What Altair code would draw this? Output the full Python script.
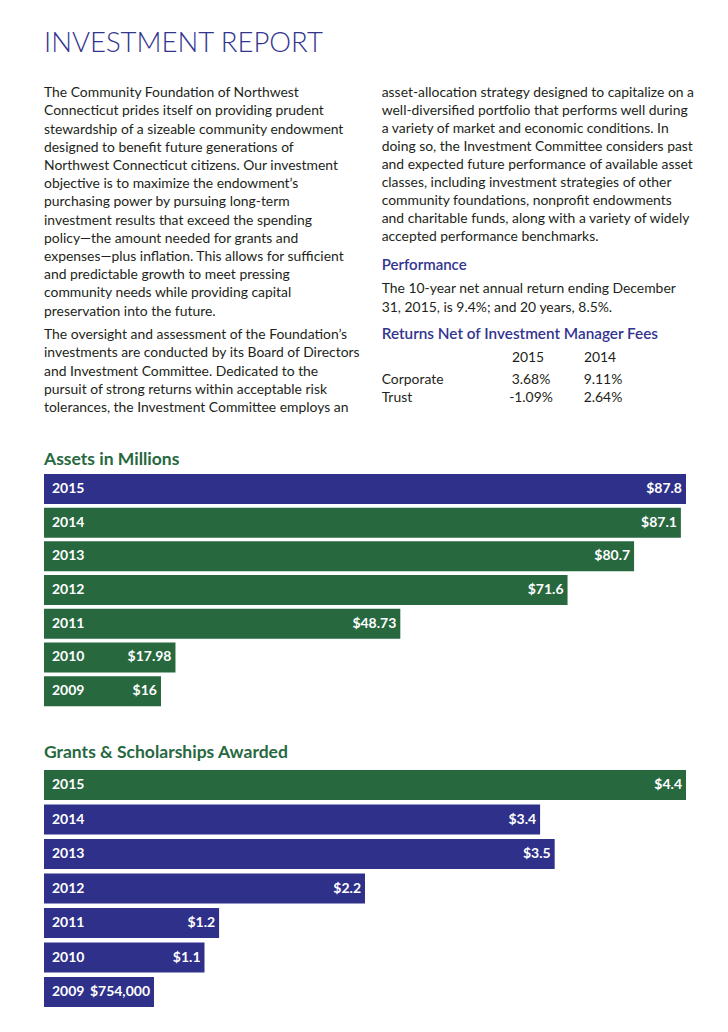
import altair as alt
import pandas as pd

# ---------------- data ----------------
TITLE = "INVESTMENT REPORT"

LEFT_P1 = [
    "The Community Foundation of Northwest",
    "Connecticut prides itself on providing prudent",
    "stewardship of a sizeable community endowment",
    "designed to benefit future generations of",
    "Northwest Connecticut citizens. Our investment",
    "objective is to maximize the endowment’s",
    "purchasing power by pursuing long-term",
    "investment results that exceed the spending",
    "policy—the amount needed for grants and",
    "expenses—plus inflation. This allows for sufficient",
    "and predictable growth to meet pressing",
    "community needs while providing capital",
    "preservation into the future.",
]
LEFT_P2 = [
    "The oversight and assessment of the Foundation’s",
    "investments are conducted by its Board of Directors",
    "and Investment Committee. Dedicated to the",
    "pursuit of strong returns within acceptable risk",
    "tolerances, the Investment Committee employs an",
]
RIGHT_P1 = [
    "asset-allocation strategy designed to capitalize on a",
    "well-diversified portfolio that performs well during",
    "a variety of market and economic conditions. In",
    "doing so, the Investment Committee considers past",
    "and expected future performance of available asset",
    "classes, including investment strategies of other",
    "community foundations, nonprofit endowments",
    "and charitable funds, along with a variety of widely",
    "accepted performance benchmarks.",
]
PERF_HEAD = "Performance"
PERF_TEXT = [
    "The 10-year net annual return ending December",
    "31, 2015, is 9.4%; and 20 years, 8.5%.",
]
RET_HEAD = "Returns Net of Investment Manager Fees"
TABLE_YEARS = ["2015", "2014"]
TABLE_ROWS = ["Corporate", "Trust"]
TABLE_2015 = ["3.68%", "-1.09%"]
TABLE_2014 = ["9.11%", "2.64%"]

ASSETS_TITLE = "Assets in Millions"
GRANTS_TITLE = "Grants & Scholarships Awarded"
YEARS = ["2015", "2014", "2013", "2012", "2011", "2010", "2009"]
ASSETS = [87.8, 87.1, 80.7, 71.6, 48.73, 17.98, 16]
ASSET_LABELS = ["$87.8", "$87.1", "$80.7", "$71.6", "$48.73", "$17.98", "$16"]
GRANTS = [4.4, 3.4, 3.5, 2.2, 1.2, 1.1, 0.754]
GRANT_LABELS = ["$4.4", "$3.4", "$3.5", "$2.2", "$1.2", "$1.1", "$754,000"]

# ---------------- style ----------------
NAVY = "#2e3089"
GREEN = "#27683f"
TITLE_BLUE = "#33348f"
BODY = "#231f20"
BODY_FONT = "Lato"
BODY_SIZE = 13.9
LABEL_FONT = "Lato"
LABEL_SIZE = 14


def text_block(lines, x, y, size=BODY_SIZE, color=BODY, weight="normal",
               font=BODY_FONT, line_height=18.2, align="left"):
    df = pd.DataFrame({"t": ["\n".join(lines)]})
    return alt.Chart(df).mark_text(
        align=align, baseline="alphabetic", font=font, fontSize=size,
        fontWeight=weight, color=color, lineBreak="\n", lineHeight=line_height,
    ).encode(x=alt.value(x), y=alt.value(y), text="t:N")


texts = [
    text_block([TITLE], 36, 43.7, size=27.5, color=TITLE_BLUE, weight=300),
    text_block(LEFT_P1, 36, 89.3, line_height=18.2),
    text_block(LEFT_P2, 36, 331, line_height=18.35),
    text_block(RIGHT_P1, 373.7, 89.3, line_height=18.0),
    text_block([PERF_HEAD], 373.7, 262, size=15, color=TITLE_BLUE, weight=600),
    text_block(PERF_TEXT, 373.7, 285.3, line_height=18.7),
    text_block([RET_HEAD], 373.7, 330.6, size=15.3, color=TITLE_BLUE, weight=600),
    text_block([TABLE_YEARS[0]], 520, 354, align="center"),
    text_block([TABLE_YEARS[1]], 592, 354, align="center"),
    text_block(TABLE_ROWS, 373.7, 375.6, line_height=18.4),
    text_block(TABLE_2015, 523, 375.6, line_height=18.4, align="center"),
    text_block(TABLE_2014, 595, 375.6, line_height=18.4, align="center"),
    text_block([ASSETS_TITLE], 36, 457, size=17.5, color=GREEN, weight="bold"),
    text_block([GRANTS_TITLE], 36, 750, size=17.5, color=GREEN, weight="bold"),
]


def bar_block(values, labels, y_range, p_inner, highlight_color, other_color):
    df = pd.DataFrame({"year": YEARS, "value": values, "label": labels})
    xs = alt.Scale(domain=[0, max(values)], range=[36, 678], nice=False, zero=True)
    ys = alt.Scale(domain=YEARS, range=y_range, paddingInner=p_inner,
                   paddingOuter=p_inner / 2)
    X = alt.X("value:Q", scale=xs, axis=None)
    Y = alt.Y("year:N", scale=ys, axis=None)
    base = alt.Chart(df)
    bars = base.mark_bar().encode(
        x=X, y=Y,
        color=alt.condition(alt.datum.year == "2015",
                            alt.value(highlight_color), alt.value(other_color)),
    )
    yr = base.mark_text(align="left", baseline="middle", font=LABEL_FONT,
                        fontSize=LABEL_SIZE, fontWeight="bold", color="white").encode(
        x=alt.value(44), y=Y, text="year:N")
    val = base.mark_text(align="right", baseline="middle", font=LABEL_FONT,
                         fontSize=LABEL_SIZE, fontWeight="bold", color="white",
                         dx=-4).encode(
        x=X, y=Y, text="label:N")
    return alt.layer(bars, yr, val)


assets = bar_block(ASSETS, ASSET_LABELS, [464.1, 700.0], 0.11, NAVY, GREEN)
grants = bar_block(GRANTS, GRANT_LABELS, [759.8, 1001.3], 0.13, GREEN, NAVY)

chart = alt.layer(*texts, assets, grants).resolve_scale(
    x="independent", y="independent"
).properties(
    width=712, height=1016,
    autosize=alt.AutoSizeParams(type="none"),
    padding=0,
).configure_view(stroke=None)

chart.save("out.html", embed_options={"renderer": "svg", "actions": False})
